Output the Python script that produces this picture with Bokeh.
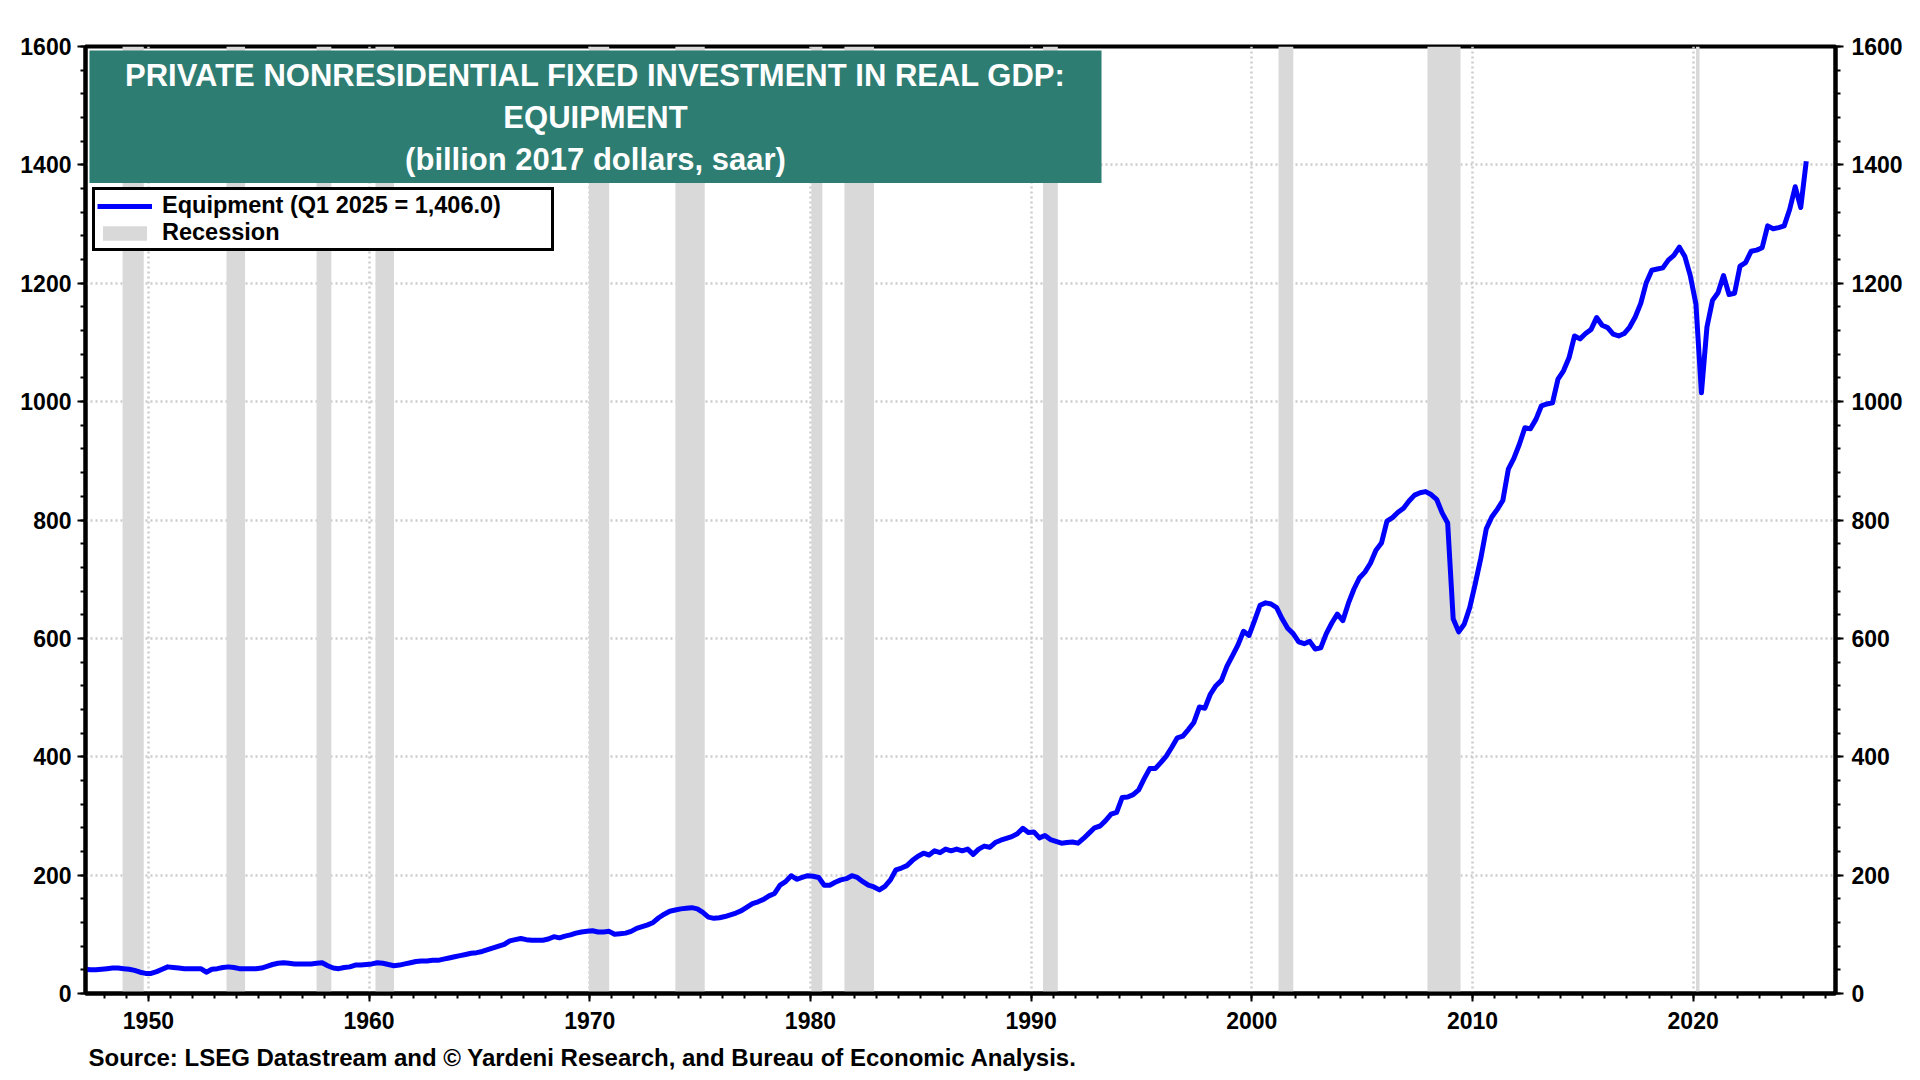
from bokeh.plotting import figure
from bokeh.models import (Range1d, LinearAxis, SingleIntervalTicker, BoxAnnotation,
                          Label, Legend, LegendItem, Title)
from bokeh.embed import file_html
from bokeh.resources import INLINE

# ---------------- data ----------------
start_year = 1947  # first quarter: Q1 1947 (plotted at mid-quarter)

equipment = [
    41, 40, 40, 41,        # 1947
    42, 43, 43, 42,        # 1948
    41, 39, 36, 34,        # 1949
    34, 37, 41, 45,        # 1950
    44, 43, 42, 42,        # 1951
    42, 42, 36, 41,        # 1952
    42, 44, 45, 44,        # 1953
    42, 42, 42, 42,        # 1954
    43, 46, 49, 51,        # 1955
    52, 51, 50, 50,        # 1956
    50, 50, 51, 52,        # 1957
    47, 43, 42, 44,        # 1958
    45, 48, 48, 49,        # 1959
    50, 52, 51, 49,        # 1960
    47, 48, 50, 52,        # 1961
    54, 55, 55, 56,        # 1962
    56, 58, 60, 62,        # 1963
    64, 66, 68, 69,        # 1964
    71, 74, 77, 80,        # 1965
    83, 89, 91, 93,        # 1966
    91, 90, 90, 90,        # 1967
    92, 96, 94, 97,        # 1968
    99, 102, 104, 105,     # 1969
    106, 104, 104, 105,    # 1970
    100, 101, 102, 105,    # 1971
    110, 113, 116, 120,    # 1972
    128, 134, 139, 141,    # 1973
    143, 144, 145, 143,    # 1974
    137, 129, 127, 128,    # 1975
    130, 133, 136, 140,    # 1976
    146, 152, 155, 159,    # 1977
    165, 169, 183, 189,    # 1978
    199, 193, 196, 199,    # 1979
    198, 196, 183, 183,    # 1980
    188, 192, 194, 199,    # 1981
    196, 189, 183, 180,    # 1982
    175, 181, 192, 209,    # 1983
    212, 216, 225, 232,    # 1984
    237, 234, 241, 238,    # 1985
    244, 241, 244, 241,    # 1986
    244, 235, 244, 249,    # 1987
    247, 255, 259, 262,    # 1988
    265, 270, 279, 272,    # 1989
    273, 263, 267, 260,    # 1990
    257, 254, 255, 256,    # 1991
    254, 262, 271, 280,    # 1992
    283, 292, 303, 306,    # 1993
    331, 332, 336, 344,    # 1994
    363, 380, 380, 390,    # 1995
    401, 416, 432, 435,    # 1996
    446, 458, 484, 482,    # 1997
    506, 520, 529, 553,    # 1998
    571, 589, 612, 605,    # 1999
    630, 656, 660, 658,    # 2000
    652, 633, 617, 608,    # 2001
    594, 591, 595, 582,    # 2002
    584, 608, 626, 641,    # 2003
    630, 659, 683, 702,    # 2004
    712, 727, 749, 761,    # 2005
    798, 804, 813, 820,    # 2006
    832, 842, 846, 848,    # 2007
    843, 835, 812, 795,    # 2008
    633, 611, 624, 652,    # 2009
    692, 735, 785, 805,    # 2010
    818, 833, 886, 904,    # 2011
    928, 956, 954, 970,    # 2012
    993, 996, 998, 1038,   # 2013
    1052, 1074, 1111, 1106,  # 2014
    1115, 1122, 1142, 1129,  # 2015
    1125, 1114, 1111, 1115,  # 2016
    1126, 1143, 1166, 1201,  # 2017
    1222, 1224, 1226, 1239,  # 2018
    1247, 1261, 1245, 1212,  # 2019
    1165, 1015, 1126, 1171,  # 2020
    1184, 1213, 1181, 1183,  # 2021
    1229, 1235, 1254, 1256,  # 2022
    1260, 1297, 1292, 1294,  # 2023
    1297, 1325, 1363, 1328,  # 2024
    1406,                    # 2025 Q1
]

quarter_dates = [start_year + i * 0.25 + 0.125 for i in range(len(equipment))]

# NBER recessions (decimal years)
rec_start = [1948.83, 1953.54, 1957.62, 1960.29, 1969.96, 1973.88,
             1980.04, 1981.54, 1990.54, 2001.21, 2007.96, 2020.13]
rec_end = [1949.79, 1954.38, 1958.29, 1961.13, 1970.88, 1975.21,
           1980.54, 1982.88, 1991.21, 2001.88, 2009.46, 2020.29]

title_lines = ["PRIVATE NONRESIDENTIAL FIXED INVESTMENT IN REAL GDP:",
               "EQUIPMENT",
               "(billion 2017 dollars, saar)"]
legend_labels = ["Equipment (Q1 2025 = 1,406.0)", "Recession"]
source_text = "Source: LSEG Datastream and \u00a9 Yardeni Research, and Bureau of Economic Analysis."

# ---------------- styling ----------------
FONT = "Liberation Sans"
TEAL = "#2e7d72"
BAND = "#d9d9d9"
GRID = "#cccccc"

p = figure(width=1912, height=1080, output_backend="svg", toolbar_location=None,
           x_range=Range1d(1947.15, 2026.45), y_range=Range1d(0, 1600),
           min_border_left=85, min_border_right=77, min_border_top=46,
           min_border_bottom=86, background_fill_color="white",
           border_fill_color="white")

p.outline_line_color = "black"
p.outline_line_width = 4

xt = SingleIntervalTicker(interval=10, num_minor_ticks=10)
yt = SingleIntervalTicker(interval=200, num_minor_ticks=5)

p.xaxis.ticker = xt
p.yaxis.ticker = yt
p.xgrid.ticker = xt
p.ygrid.ticker = yt

right_axis = LinearAxis(ticker=yt)
p.add_layout(right_axis, "right")

for ax in [p.xaxis[0], p.yaxis[0], right_axis]:
    ax.axis_line_color = "black"
    ax.axis_line_width = 4
    ax.major_tick_line_color = "black"
    ax.minor_tick_line_color = "black"
    ax.major_tick_line_width = 2
    ax.minor_tick_line_width = 2
    ax.major_tick_out = 8
    ax.major_tick_in = 0
    ax.minor_tick_out = 5
    ax.minor_tick_in = 0
    ax.major_label_text_font = FONT
    ax.major_label_text_font_style = "bold"
    ax.major_label_text_font_size = "23px"
    ax.major_label_text_color = "black"
    ax.major_label_standoff = 8
p.yaxis[0].major_label_standoff = 6
p.xaxis[0].major_label_standoff = 10

for g in [p.xgrid[0], p.ygrid[0]]:
    g.grid_line_color = GRID
    g.grid_line_dash = "2 3"
    g.grid_line_width = 2.5

band_r = p.quad(left=rec_start, right=rec_end, bottom=0, top=1600,
                fill_color=BAND, line_color=None)

line_r = p.line(quarter_dates, equipment, line_color="#0000ff", line_width=5,
                line_join="round")

# Title box
title_box = BoxAnnotation(left=1947.33, right=1993.19, bottom=1369.5, top=1593.3,
                          fill_color=TEAL, fill_alpha=1.0, line_color=None)
p.add_layout(title_box)

title_y = [1551.1, 1480.8, 1408.6]
for txt, ty in zip(title_lines, title_y):
    p.add_layout(Label(x=1970.26, y=ty, text=txt, text_align="center",
                       text_baseline="middle", text_color="white",
                       text_font=FONT, text_font_style="bold",
                       text_font_size="31px"))

legend = Legend(items=[LegendItem(label=legend_labels[0], renderers=[line_r]),
                       LegendItem(label=legend_labels[1], renderers=[band_r])],
                location=(7, 742), orientation="vertical",
                border_line_color="black", border_line_width=3,
                border_line_alpha=1.0,
                background_fill_color="white", background_fill_alpha=1.0,
                padding=2, spacing=0, margin=0,
                glyph_width=55, glyph_height=18, label_standoff=10,
                label_height=25, label_width=387,
                label_text_font=FONT, label_text_font_style="bold",
                label_text_font_size="23.5px", label_text_baseline="middle",
                label_text_color="black")
p.add_layout(legend)

source = Title(text=source_text, align="left", offset=3, standoff=20,
               text_font=FONT, text_font_style="bold", text_font_size="24px",
               text_color="black")
p.add_layout(source, "below")

open("out.html", "w").write(file_html(p, INLINE))
